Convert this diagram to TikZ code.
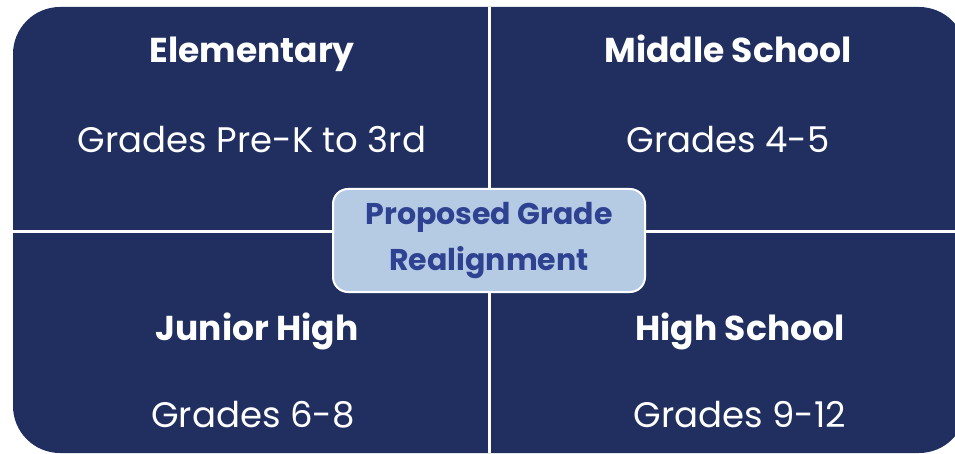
\documentclass[tikz,border=0pt]{standalone}
\usepackage{fontspec}
\setmainfont{Poppins}
\usepackage{xcolor}
\definecolor{navy}{RGB}{32,47,96}
\definecolor{paleblue}{RGB}{181,203,228}
\definecolor{inkblue}{RGB}{46,66,145}

\tikzset{
  quadtitle/.style={anchor=base, inner sep=0pt, text=white, font=\fontsize{34.5}{40}\selectfont\bfseries},
  quadgrades/.style={anchor=base, inner sep=0pt, text=white, font=\fontsize{35.5}{40}\selectfont},
  hubbox/.style={draw=white, line width=2pt, fill=paleblue, rounded corners=15pt,
    minimum width=312pt, minimum height=103pt, align=center, text=inkblue,
    font=\fontsize{30}{46}\selectfont\bfseries},
}

\begin{document}
\begin{tikzpicture}[x=1pt, y=-1pt]
\useasboundingbox (0,0) rectangle (955,454);
\clip (0,0) rectangle (955,454);

% the four quadrants
\fill[navy, rounded corners=47pt] (13,7) rectangle (966,453);
\draw[white, line width=3pt] (489,7) -- (489,453);
\draw[white, line width=3pt] (13,231.5) -- (966,231.5);

\node[quadtitle]  (elem)      at (252,63)  {Elementary};
\node[quadgrades] (elemgr)    at (252,153) {Grades Pre-K to 3rd};
\node[quadtitle]  (middle)    at (728,63)  {Middle School};
\node[quadgrades] (middlegr)  at (728,153) {Grades 4-5};
\node[quadtitle]  (junior)    at (257,340) {Junior High};
\node[quadgrades] (juniorgr)  at (253,427) {Grades 6-8};
\node[quadtitle]  (high)      at (740,340) {High School};
\node[quadgrades] (highgr)    at (740,427) {Grades 9-12};

% centre label
\node[hubbox] (hub) at (489,240.5) {Proposed Grade\\Realignment};
\end{tikzpicture}
\end{document}
